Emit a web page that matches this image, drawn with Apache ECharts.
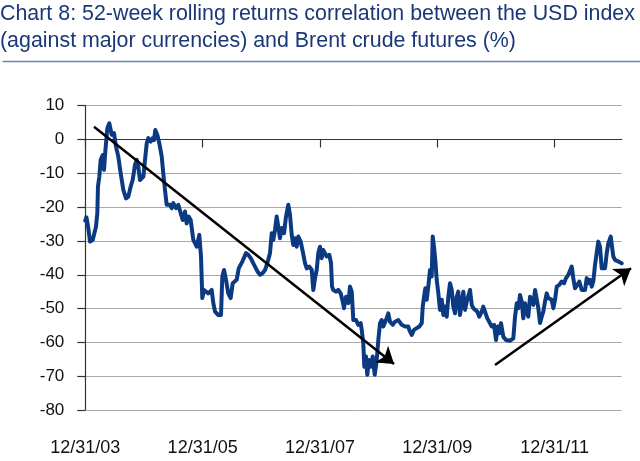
<!DOCTYPE html>
<html>
<head>
<meta charset="utf-8">
<script src="https://cdn.jsdelivr.net/npm/echarts@6/dist/echarts.min.js"></script>
<style>
html,body{margin:0;padding:0;background:#fff;}
#chart{width:640px;height:461px;}
</style>
</head>
<body>
<div id="chart"></div>
<script>
const titleText = 'Chart 8: 52-week rolling returns correlation between the USD index\n(against major currencies) and Brent crude futures (%)';
const xTickYears = [2004, 2006, 2008, 2010, 2012];
const xMinYear = 2004;
const xMaxYear = 2013.142;
const yMin = -80, yMax = 10, yStep = 10;

const years = [
2004.000,2004.020,2004.051,2004.080,2004.126,2004.153,2004.182,2004.205,2004.216,2004.239,
2004.262,2004.297,2004.319,2004.341,2004.375,2004.409,2004.450,2004.489,2004.523,2004.562,
2004.603,2004.648,2004.694,2004.733,2004.774,2004.808,2004.847,2004.876,2004.903,2004.932,
2004.961,2004.989,2005.018,2005.047,2005.074,2005.115,2005.149,2005.171,2005.193,2005.227,
2005.261,2005.302,2005.329,2005.358,2005.387,2005.444,2005.473,2005.500,2005.546,2005.585,
2005.626,2005.660,2005.699,2005.728,2005.762,2005.796,2005.841,2005.899,2005.943,2005.972,
2005.994,2006.023,2006.096,2006.154,2006.182,2006.211,2006.267,2006.313,2006.335,2006.364,
2006.398,2006.437,2006.478,2006.512,2006.540,2006.580,2006.615,2006.649,2006.676,2006.710,
2006.739,2006.778,2006.819,2006.853,2006.892,2006.938,2006.978,2007.024,2007.063,2007.102,
2007.148,2007.177,2007.204,2007.233,2007.262,2007.289,2007.318,2007.347,2007.387,2007.421,
2007.460,2007.489,2007.518,2007.545,2007.574,2007.603,2007.630,2007.671,2007.705,2007.745,
2007.774,2007.818,2007.859,2007.886,2007.915,2007.944,2007.971,2008.000,2008.029,2008.056,
2008.085,2008.114,2008.159,2008.188,2008.205,2008.227,2008.273,2008.312,2008.353,2008.387,
2008.409,2008.443,2008.483,2008.511,2008.541,2008.568,2008.614,2008.653,2008.694,2008.711,
2008.738,2008.755,2008.784,2008.806,2008.835,2008.864,2008.898,2008.933,2008.967,2008.994,
2009.023,2009.052,2009.079,2009.125,2009.164,2009.193,2009.239,2009.278,2009.335,2009.393,
2009.449,2009.505,2009.522,2009.563,2009.602,2009.648,2009.693,2009.734,2009.751,2009.773,
2009.795,2009.819,2009.846,2009.875,2009.904,2009.921,2009.943,2009.965,2009.989,2010.017,
2010.045,2010.075,2010.102,2010.131,2010.160,2010.187,2010.216,2010.245,2010.272,2010.301,
2010.330,2010.357,2010.386,2010.415,2010.443,2010.472,2010.501,2010.528,2010.557,2010.586,
2010.613,2010.642,2010.681,2010.715,2010.756,2010.783,2010.812,2010.852,2010.886,2010.927,
2010.966,2011.000,2011.029,2011.056,2011.085,2011.124,2011.170,2011.239,2011.295,2011.324,
2011.353,2011.380,2011.409,2011.438,2011.465,2011.494,2011.523,2011.550,2011.580,2011.609,
2011.636,2011.665,2011.694,2011.721,2011.750,2011.779,2011.806,2011.835,2011.864,2011.891,
2011.920,2011.949,2011.977,2012.006,2012.035,2012.079,2012.120,2012.159,2012.193,2012.232,
2012.261,2012.290,2012.317,2012.346,2012.386,2012.420,2012.461,2012.488,2012.517,2012.546,
2012.573,2012.602,2012.631,2012.658,2012.687,2012.716,2012.743,2012.772,2012.802,2012.829,
2012.858,2012.887,2012.914,2012.955,2012.982,2012.999,2013.028,2013.057,2013.084,2013.113,
2013.142
];
const values = [
-24,-23,-26.2,-30.2,-29.7,-30.2,-25.8,-21.8,-13.9,-11,
-6,-4.6,-9,-3.6,3.3,4.8,1.4,1.9,-2.1,-5,
-10,-14.9,-17.4,-16.9,-13.9,-11.9,-7.5,-6,-8,-12,
-12.4,-11,-6,-1.1,0.4,-0.6,0.4,-0.2,2.8,1.4,
-1.1,-5,-10,-14.9,-19.3,-19.3,-20.3,-18.8,-20.3,-19.3,
-21.8,-23.8,-21.3,-24.8,-22.8,-23.8,-29.7,-31.7,-28.2,-34.6,
-46.9,-44.5,-45.5,-44.5,-48.4,-50.9,-51.9,-51.9,-40.5,-38.6,
-41.5,-45.5,-46.9,-42.5,-42,-41.5,-38.1,-38.1,-36.1,-35.6,
-33.6,-34.1,-35.1,-35.6,-37.6,-39.1,-40,-39.5,-38.6,-36.6,
-33.6,-27.7,-29.7,-26.7,-22.8,-25.8,-29.2,-26.2,-27.7,-22.8,
-19.3,-22.3,-28.2,-31.2,-29.2,-31.7,-28.7,-30.2,-33,-36.6,
-38.1,-37.6,-38.6,-44.5,-41,-38.6,-33.6,-31.7,-35.1,-32.7,
-32.2,-34.6,-34.1,-36.6,-43.5,-44.5,-45,-44.5,-45.5,-47.9,
-49.9,-46.5,-48.4,-43.5,-45,-53.4,-53.4,-54.8,-54.3,-56.3,
-60.2,-67.2,-64.2,-69.6,-65.2,-67.2,-64.2,-69.6,-65.2,-59.3,
-54.3,-53.4,-55.3,-53.4,-51.4,-53.9,-54.8,-53.9,-53.4,-54.8,
-55.3,-55.3,-56.3,-57.8,-56.3,-55.8,-55.3,-54.3,-49.4,-46.5,
-44,-47.4,-43.5,-38.6,-40.5,-28.7,-31.7,-35.6,-41.5,-45.5,
-50.4,-47.4,-51.9,-49.4,-52.4,-46.5,-42.5,-44.5,-49.4,-51.4,
-46.5,-45,-51.9,-48.4,-45,-50.4,-47.9,-47.4,-44.5,-48.9,
-49.9,-50.4,-50.9,-52.4,-50.9,-49.4,-50.9,-52.9,-52.4,-55.3,
-54.8,-59.3,-55.3,-57.3,-54.3,-58.3,-59.3,-59.5,-58.8,-52.4,
-48.4,-49.9,-46,-47.9,-52.9,-48.4,-50.9,-52.4,-46.5,-46,
-48.9,-44.5,-45,-49.9,-54.3,-52.4,-50.9,-47.9,-45.5,-46.9,
-46.5,-47.4,-49.9,-47.4,-43.5,-43,-42,-42.5,-41,-40,
-39.5,-37.6,-41,-44,-43,-42,-44.5,-44,-44.5,-41,
-42.5,-41.5,-43.5,-42,-37.1,-36.6,-30.2,-31.7,-38.1,-38.6,
-38.1,-33.6,-30.7,-28.7,-29.2,-34.6,-35.6,-35.1,-36.1,-35.6,
-36.6
];
const arrowDown = [[2004.148, 3.8], [2009.262, -66.4]];
const arrowUp = [[2010.983, -66.7], [2013.301, -38.1]];

const FONT = "'Liberation Sans', Arial, Helvetica, sans-serif";
const chart = echarts.init(document.getElementById('chart'), null, {renderer: 'canvas'});
const lineData = years.map((y, i) => [y, values[i]]);
const yearLabel = v => '12/31/' + String(Math.round(v) - 1).slice(2);

chart.setOption({
  animation: false,
  backgroundColor: '#ffffff',
  title: {
    text: titleText,
    left: 0, top: 0, padding: 0,
    textStyle: {color: '#1a3878', fontFamily: FONT, fontSize: 21.4, fontWeight: 'normal', lineHeight: 27.5}
  },
  graphic: [{
    type: 'line', left: 0, top: 59, silent: true,
    shape: {x1: 0, y1: 0, x2: 640, y2: 0},
    style: {stroke: '#6a84b2', lineWidth: 1.5}
  }],
  grid: {left: 85.3, right: 18.3, top: 105.7, bottom: 51, containLabel: false},
  xAxis: [{
    type: 'value', position: 'bottom', min: xMinYear, max: xMaxYear, interval: 2,
    axisLine: {show: false, onZero: false},
    axisTick: {show: false},
    splitLine: {show: false},
    axisLabel: {customValues: xTickYears, formatter: yearLabel, margin: 29,
      fontFamily: FONT, fontSize: 18, color: '#111'}
  }, {
    type: 'value', position: 'top', min: xMinYear, max: xMaxYear, interval: 2,
    axisLine: {show: true, onZero: true, lineStyle: {color: '#333', width: 1.2}},
    axisTick: {show: true, inside: true, length: 8, customValues: xTickYears, lineStyle: {color: '#333', width: 1.2}},
    axisLabel: {show: false},
    splitLine: {show: false}
  }],
  yAxis: {
    type: 'value', min: yMin, max: yMax, interval: yStep,
    axisLine: {show: true, onZero: false, lineStyle: {color: '#333', width: 1.2}},
    axisTick: {show: true, length: 8, lineStyle: {color: '#333', width: 1.2}},
    splitLine: {show: true, lineStyle: {color: '#aaaaaa', width: 1}},
    axisLabel: {margin: 21, fontFamily: FONT, fontSize: 17, color: '#111'}
  },
  series: [{
    type: 'line', xAxisIndex: 0, yAxisIndex: 0, data: lineData,
    showSymbol: false, clip: false,
    lineStyle: {color: '#0b3a82', width: 4, join: 'round', cap: 'round'},
    z: 3
  }, {
    type: 'lines', coordinateSystem: 'cartesian2d', xAxisIndex: 0, yAxisIndex: 0,
    clip: false, polyline: false,
    symbol: ['none', 'arrow'], symbolSize: 16,
    lineStyle: {color: '#000', width: 2.5, opacity: 1, curveness: 0},
    data: [{coords: arrowDown}, {coords: arrowUp}],
    z: 4
  }]
});
</script>
</body>
</html>
